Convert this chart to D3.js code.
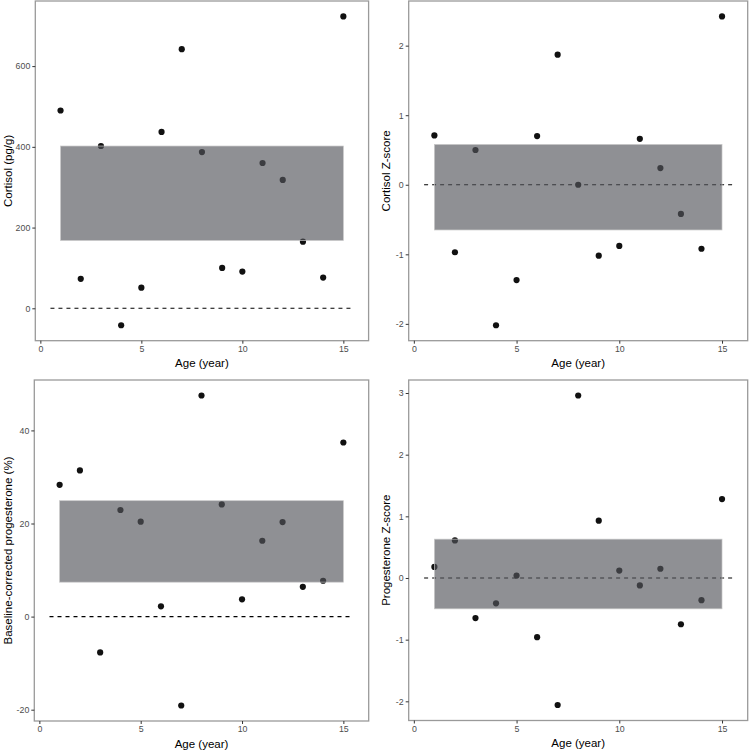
<!DOCTYPE html>
<html><head><meta charset="utf-8">
<script src="https://cdn.jsdelivr.net/npm/d3@7"></script>
<style>body{margin:0;background:#fff}svg{display:block}</style>
</head><body>
<script>
const ages = [1,2,3,4,5,6,7,8,9,10,11,12,13,14,15];
const cortisol = [490,73,402,-42,51,437,642,387,100,91,360,318,165,76,723];
const cortisolZ = [0.71,-0.97,0.50,-2.02,-1.37,0.70,1.87,0.00,-1.02,-0.88,0.66,0.24,-0.42,-0.92,2.42];
const progesterone = [28.3,31.4,-7.7,22.9,20.4,2.2,-19.1,47.5,24.1,3.7,16.3,20.3,6.4,7.7,37.4];
const progesteroneZ = [0.18,0.61,-0.65,-0.41,0.04,-0.96,-2.06,2.96,0.93,0.12,-0.12,0.15,-0.75,-0.36,1.28];
const bands = [[168,402],[-0.65,0.58],[7.4,24.9],[-0.50,0.63]];
const yTicks = [[0,200,400,600],[-2,-1,0,1,2],[-20,0,20,40],[-2,-1,0,1,2,3]];
const xTicks = [0,5,10,15];
const yTitles = ["Cortisol (pg/g)","Cortisol Z-score","Baseline-corrected progesterone (%)","Progesterone Z-score"];
const xTitle = "Age (year)";
const series = [cortisol, cortisolZ, progesterone, progesteroneZ];

const boxes = [
  {l:35.3, r:368.6, t:1, b:340.7, tx:8},
  {l:408.7, r:747.7, t:1, b:340.7, tx:386},
  {l:34.3, r:368.7, t:380, b:721, tx:8},
  {l:408.7, r:747.7, t:380, b:720.5, tx:386}
];

const svg = d3.select("body").append("svg").attr("width",750).attr("height",750);
const font = "Liberation Sans, Arial, sans-serif";

series.forEach((vals,i)=>{
  const B = boxes[i];
  const g = svg.append("g");
  const xr = [0.5,15.5], xe = (xr[1]-xr[0])*0.05;
  const x = d3.scaleLinear().domain([xr[0]-xe, xr[1]+xe]).range([B.l,B.r]);
  const ymin = Math.min(d3.min(vals), 0, bands[i][0]), ymax = Math.max(d3.max(vals), bands[i][1]);
  const ye = (ymax-ymin)*0.05;
  const y = d3.scaleLinear().domain([ymin-ye, ymax+ye]).range([B.b,B.t]);

  // dashed zero line
  g.append("line").attr("x1",x(0.5)).attr("x2",x(15.5)).attr("y1",y(0)).attr("y2",y(0))
    .attr("stroke","#000").attr("stroke-width",1.1).attr("stroke-dasharray","4,4");
  // points
  g.selectAll("circle").data(ages).join("circle")
    .attr("cx",d=>x(d)).attr("cy",(d,j)=>y(vals[j])).attr("r",3.1).attr("fill","#111");
  // band
  g.append("rect").attr("x",x(1)).attr("width",x(15)-x(1))
    .attr("y",y(bands[i][1])).attr("height",y(bands[i][0])-y(bands[i][1]))
    .attr("fill","rgb(84,85,92)").attr("fill-opacity",0.655)
    .attr("stroke","#c8c8c8").attr("stroke-width",0.7);
  // panel border
  g.append("rect").attr("x",B.l).attr("y",B.t).attr("width",B.r-B.l).attr("height",B.b-B.t)
    .attr("fill","none").attr("stroke","#9a9a9a").attr("stroke-width",1.3);

  // axes
  const xa = g.append("g").attr("transform",`translate(0,${B.b})`)
    .call(d3.axisBottom(x).tickValues(xTicks).tickSize(3).tickPadding(2));
  const ya = g.append("g").attr("transform",`translate(${B.l},0)`)
    .call(d3.axisLeft(y).tickValues(yTicks[i]).tickSize(3).tickPadding(2));
  [xa,ya].forEach(a=>{
    a.select(".domain").remove();
    a.selectAll(".tick line").attr("stroke","#333").attr("stroke-width",1);
    a.selectAll(".tick text").attr("fill","#4d4d4d").style("font-family",font).style("font-size","8.8px");
  });
  ya.selectAll(".tick text").text(d=>String(d).replace("-","-"));

  g.append("text").attr("x",(B.l+B.r)/2).attr("y",B.b+26.5).attr("text-anchor","middle")
    .style("font-family",font).style("font-size","11.5px").attr("fill","#000").text(xTitle);
  g.append("text").attr("transform",`translate(${B.tx},${(B.t+B.b)/2}) rotate(-90)`)
    .attr("text-anchor","middle").attr("dy","0.35em")
    .style("font-family",font).style("font-size","11.5px").attr("fill","#000").text(yTitles[i]);
});
</script>
</body></html>
